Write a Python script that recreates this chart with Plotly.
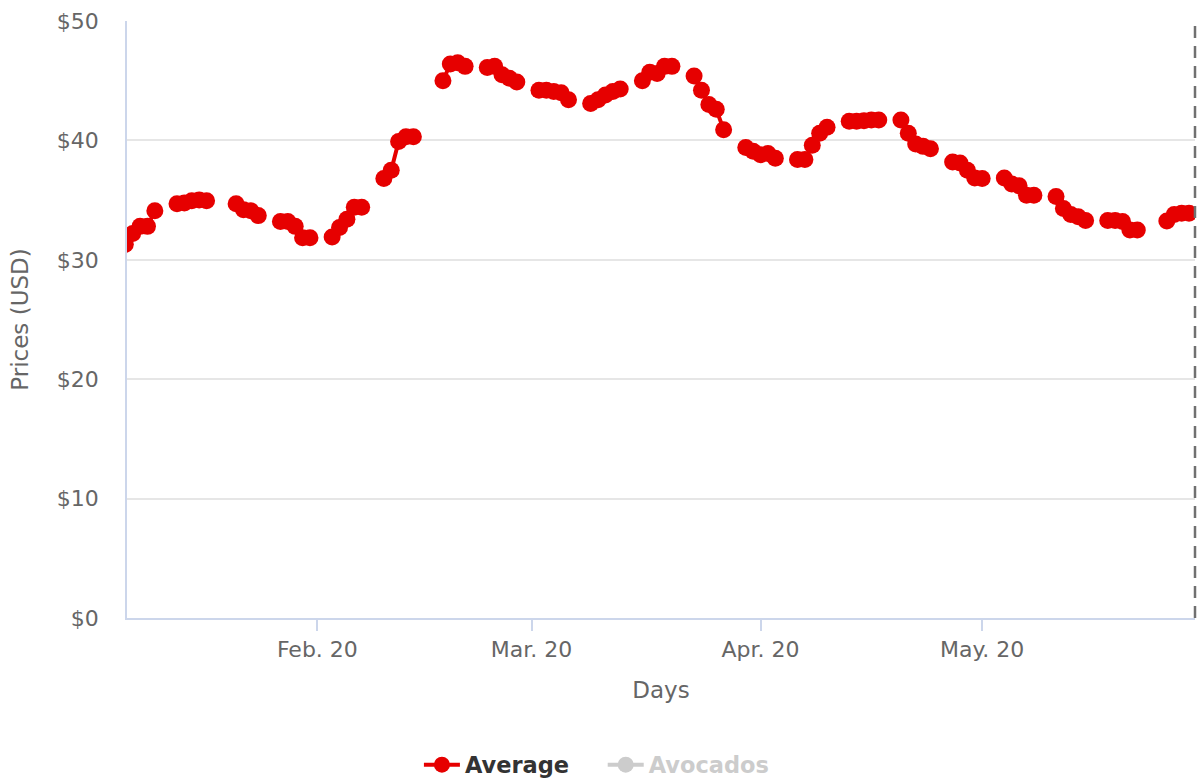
import plotly.graph_objects as go
from datetime import date, timedelta

# ---- data ----
dates = [
    "2020-01-06", "2020-01-07", "2020-01-08", "2020-01-09", "2020-01-10",
    "2020-01-13", "2020-01-14", "2020-01-15", "2020-01-16", "2020-01-17",
    "2020-01-21", "2020-01-22", "2020-01-23", "2020-01-24",
    "2020-01-27", "2020-01-28", "2020-01-29", "2020-01-30", "2020-01-31",
    "2020-02-03", "2020-02-04", "2020-02-05", "2020-02-06", "2020-02-07",
    "2020-02-10", "2020-02-11", "2020-02-12", "2020-02-13", "2020-02-14",
    "2020-02-18", "2020-02-19", "2020-02-20", "2020-02-21",
    "2020-02-24", "2020-02-25", "2020-02-26", "2020-02-27", "2020-02-28",
    "2020-03-02", "2020-03-03", "2020-03-04", "2020-03-05", "2020-03-06",
    "2020-03-09", "2020-03-10", "2020-03-11", "2020-03-12", "2020-03-13",
    "2020-03-16", "2020-03-17", "2020-03-18", "2020-03-19", "2020-03-20",
    "2020-03-23", "2020-03-24", "2020-03-25", "2020-03-26", "2020-03-27",
    "2020-03-30", "2020-03-31", "2020-04-01", "2020-04-02", "2020-04-03",
    "2020-04-06", "2020-04-07", "2020-04-08", "2020-04-09", "2020-04-10",
    "2020-04-13", "2020-04-14", "2020-04-15", "2020-04-16", "2020-04-17",
    "2020-04-20", "2020-04-21", "2020-04-22", "2020-04-23", "2020-04-24",
    "2020-04-27", "2020-04-28", "2020-04-29", "2020-04-30", "2020-05-01",
    "2020-05-04", "2020-05-05", "2020-05-06", "2020-05-07", "2020-05-08",
    "2020-05-11", "2020-05-12", "2020-05-13", "2020-05-14", "2020-05-15",
    "2020-05-18", "2020-05-19", "2020-05-20", "2020-05-21", "2020-05-22",
    "2020-05-26", "2020-05-27", "2020-05-28", "2020-05-29",
]
average = [
    31.3, 32.2, 32.8, 32.8, 34.1,
    34.7, 34.75, 34.95, 35.0, 34.95,
    34.7, 34.2, 34.1, 33.7,
    33.2, 33.2, 32.8, 31.85, 31.85,
    31.9, 32.7, 33.4, 34.4, 34.4,
    36.8, 37.5, 39.9, 40.3, 40.3,
    45.0, 46.4, 46.5, 46.2,
    46.1, 46.2, 45.5, 45.2, 44.9,
    44.2, 44.2, 44.1, 44.0, 43.4,
    43.1, 43.4, 43.8, 44.1, 44.3,
    45.0, 45.7, 45.6, 46.2, 46.2,
    45.4, 44.2, 43.0, 42.6, 40.9,
    39.4, 39.1, 38.8, 38.9, 38.5,
    38.4, 38.4, 39.6, 40.6, 41.1,
    41.6, 41.6, 41.65, 41.7, 41.7,
    41.7, 40.6, 39.7, 39.5, 39.3,
    38.2, 38.1, 37.5, 36.85, 36.8,
    36.85, 36.35, 36.2, 35.4, 35.4,
    35.3, 34.3, 33.8, 33.6, 33.3,
    33.3, 33.3, 33.2, 32.5, 32.5,
    33.25, 33.8, 33.9, 33.9,
]
tick_dates = ["2020-02-01", "2020-03-01", "2020-04-01", "2020-05-01"]
tick_labels = ["Feb. 20", "Mar. 20", "Apr. 20", "May. 20"]
y_ticks = [0, 10, 20, 30, 40, 50]
y_labels = ["$0", "$10", "$20", "$30", "$40", "$50"]
x_range = ["2020-01-06 05:30", "2020-05-29 19:30"]

# insert breaks where consecutive data days are not adjacent (weekends, holidays)
xs, ys = [], []
prev = None
for d, v in zip(dates, average):
    cur = date.fromisoformat(d)
    if prev is not None and (cur - prev) > timedelta(days=1):
        xs.append((prev + timedelta(days=1)).isoformat())
        ys.append(None)
    xs.append(d)
    ys.append(v)
    prev = cur

RED = "#e60000"
AXIS = "#ccd6eb"
TXT = "#666666"
FONT = "DejaVu Sans"
SP = "&nbsp;" * 4

fig = go.Figure()
fig.add_trace(go.Scatter(
    x=xs, y=ys, mode="lines+markers", name="<b>Average</b>" + SP,
    line=dict(color=RED, width=4), marker=dict(color=RED, size=17),
    connectgaps=False,
))
fig.add_trace(go.Scatter(
    x=[None], y=[None], mode="lines+markers",
    name='<b><span style="color:#cccccc">Avocados</span></b>',
    line=dict(color="#cccccc", width=4), marker=dict(color="#cccccc", size=17),
))

fig.add_shape(type="line", xref="paper", yref="paper", x0=1, x1=1,
              y0=0, y1=1, line=dict(color="#707070", width=2.5, dash="12px,8px"))

fig.update_layout(
    width=1197, height=781,
    margin=dict(l=127, r=2, t=21, b=163),
    paper_bgcolor="white", plot_bgcolor="white",
    font=dict(family=FONT, size=22, color=TXT),
    showlegend=True,
    legend=dict(orientation="h", x=0.44, xanchor="center",
                yref="container", y=1 - 765 / 781, yanchor="middle",
                font=dict(family=FONT, size=22.5, color="#333333"), itemwidth=36),
    xaxis=dict(
        type="date", range=x_range, tickvals=tick_dates, ticktext=tick_labels,
        showgrid=False, showline=True, linecolor=AXIS, linewidth=1.5,
        ticks="outside", ticklen=11, tickcolor=AXIS, tickwidth=1.5,
        tickfont=dict(family=FONT, size=22, color=TXT),
        title=dict(text="Days", font=dict(family=FONT, size=23, color=TXT), standoff=21),
        zeroline=False, automargin=False,
    ),
    yaxis=dict(
        range=[0, 50], tickvals=y_ticks, ticktext=y_labels,
        showgrid=True, gridcolor="#e6e6e6", gridwidth=1.5,
        showline=True, linecolor=AXIS, linewidth=1.5,
        ticks="", ticklabelstandoff=22,
        tickfont=dict(family=FONT, size=22, color=TXT),
        title=dict(text="Prices (USD)", font=dict(family=FONT, size=23, color=TXT), standoff=22),
        zeroline=False, automargin=False,
    ),
)

fig.write_html(
    "out.html",
    config={"displayModeBar": False},
    post_script="document.body.style.margin='0';document.body.style.overflow='hidden';",
)
